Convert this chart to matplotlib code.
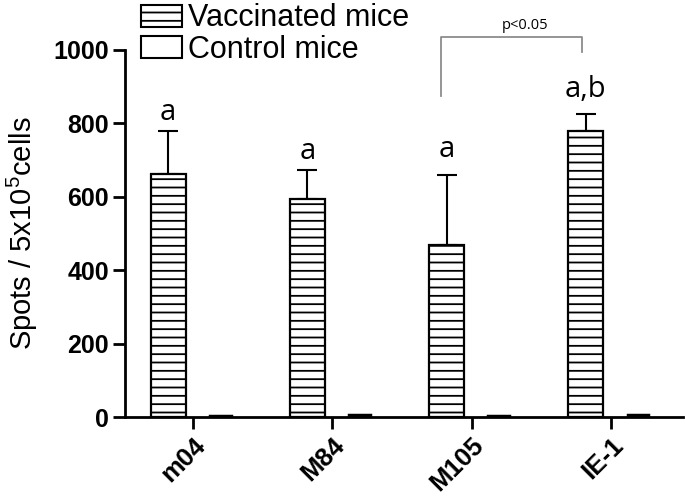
import matplotlib
matplotlib.use("Agg")
import matplotlib.pyplot as plt
import numpy as np

categories = ["m04", "M84", "M105", "IE-1"]
vaccinated = [661, 595, 470, 778]
vaccinated_err = [117, 78, 190, 47]
control = [3, 6, 2, 5]
letters = ["a", "a", "a", "a,b"]
letter_gap = [30, 30, 49, 46]

plt.rcParams['hatch.linewidth'] = 1.3
plt.rcParams['mathtext.fontset'] = 'custom'
plt.rcParams['mathtext.rm'] = 'Liberation Sans'
plt.rcParams['mathtext.it'] = 'Liberation Sans'

fig = plt.figure(figsize=(6.85, 4.99), dpi=100)
ax = fig.add_axes([0.1825, 0.1643, 0.815, 0.7355])

x = np.arange(len(categories))
bw_v = 0.25
bw_c = 0.15
off_v = -0.18
off_c = 0.195

ax.bar(x + off_v, vaccinated, width=bw_v, color="white", edgecolor="black",
       linewidth=1.6, hatch="--", label="Vaccinated mice", zorder=2)
ax.errorbar(x + off_v, vaccinated, yerr=[[0]*4, vaccinated_err], fmt="none",
            ecolor="black", elinewidth=1.5, capsize=7, capthick=1.5, zorder=1)
ax.bar(x + off_c, control, width=bw_c, color="black", edgecolor="black",
       linewidth=2.5, label="Control mice", zorder=2)

for xi, v, e, t, g in zip(x, vaccinated, vaccinated_err, letters, letter_gap):
    ax.text(xi + off_v, v + e + g, t, ha="center", va="baseline",
            fontsize=21, family="Open Sans")

# significance bracket
yb_low, yb_top, yb_right = 875, 1035, 995
bl = 2 + off_v - 0.04
br = 3 + off_v - 0.03
ax.plot([bl, bl, br, br], [yb_low, yb_top, yb_top, yb_right],
        color="#8c8c8c", lw=1.3, clip_on=False)
ax.text((bl + br) / 2 + 0.1, 1058, "p<0.05", ha="center", va="baseline",
        fontsize=10.5, family="Open Sans")

ax.set_xlim(-0.49, 3.52)
ax.set_ylim(0, 1000)
ax.set_yticks([0, 200, 400, 600, 800, 1000])
ax.set_xticks(x)
ax.set_xticklabels(categories, rotation=45, ha="right", rotation_mode="anchor",
                   fontsize=18.5, fontweight="bold", family="Liberation Sans")
for lab in ax.get_yticklabels():
    lab.set_fontsize(18)
    lab.set_fontweight("bold")
    lab.set_family("Liberation Sans")
ax.set_ylabel("Spots / 5x10$^5$cells", fontsize=21, family="Liberation Sans",
              labelpad=10)

for s in ["top", "right"]:
    ax.spines[s].set_visible(False)
for s in ["left", "bottom"]:
    ax.spines[s].set_linewidth(2.0)
ax.tick_params(axis="both", width=2.0, length=8.5, direction="out", pad=3)
ax.tick_params(axis="x", pad=3)

leg = fig.legend(loc="upper left", bbox_to_anchor=(141 / 685, 0.993),
                 bbox_transform=fig.transFigure, frameon=False,
                 prop={"family": "Liberation Sans", "size": 22},
                 handlelength=1.35, handleheight=0.75, handletextpad=0.2,
                 labelspacing=0.04, borderaxespad=0, borderpad=0)
for h in leg.legend_handles:
    h.set_linewidth(1.5)
leg.legend_handles[1].set_facecolor("white")

fig.savefig("out.png", dpi=100)
